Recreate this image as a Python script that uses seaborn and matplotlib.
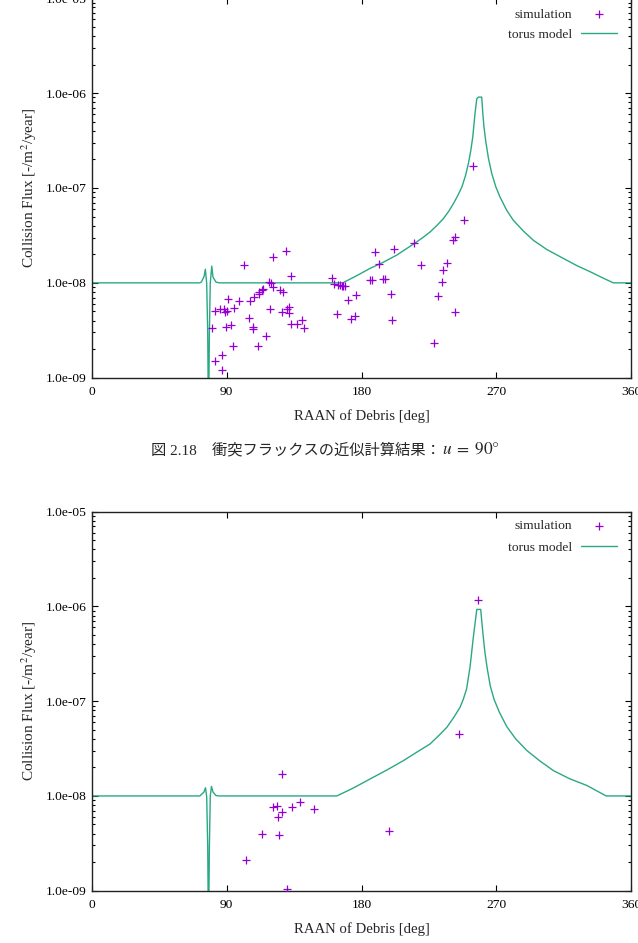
# collision_flux_raan_plot.py

import matplotlib
matplotlib.use("Agg")
import matplotlib.pyplot as plt
import matplotlib.ticker as mticker
import seaborn as sns

# ---- data ----
y_ticks = [1e-9, 1e-8, 1e-7, 1e-6, 1e-5]
x_ticks = [0, 90, 180, 270, 360]

# upper panel (u = 90 deg)
top_sim_raan = [101.3, 121.1, 129.4, 132.7, 118.4, 119.4, 120.9, 125.6, 127.6, 113.4,
                114.2, 111.8, 111.8, 108.4, 105.3, 98.0, 90.6, 82.4, 85.5, 88.4,
                90.0, 89.0, 94.9, 118.9, 126.7, 131.8, 131.8, 130.5, 104.9, 140.3,
                132.7, 136.7, 141.6, 80.0, 89.7, 93.1, 107.3, 107.8, 115.9, 110.6,
                94.5, 86.6, 82.2, 87.0,
                160.3, 161.7, 164.3, 165.7, 166.8, 167.9, 169.0, 163.9, 171.2, 176.4,
                172.8, 175.9, 185.7, 187.0, 189.0, 191.9, 194.6, 195.5, 199.7, 200.2,
                201.9, 215.3, 219.6, 228.5, 230.9, 233.6, 234.3, 236.9, 241.4, 242.3,
                242.3, 248.7, 254.7]
top_sim_flux = [1.55e-8, 1.88e-8, 2.16e-8, 1.17e-8, 1.03e-8, 9.86e-9, 8.95e-9, 8.38e-9, 7.98e-9, 8.38e-9,
                8.59e-9, 8.04e-9, 7.60e-9, 7.06e-9, 6.41e-9, 6.41e-9, 6.68e-9, 5.04e-9, 5.32e-9, 5.25e-9,
                5.04e-9, 4.95e-9, 5.38e-9, 5.25e-9, 4.95e-9, 5.51e-9, 4.76e-9, 5.25e-9, 4.22e-9, 4.05e-9,
                3.70e-9, 3.65e-9, 3.31e-9, 3.31e-9, 3.44e-9, 3.59e-9, 3.40e-9, 3.26e-9, 2.75e-9, 2.18e-9,
                2.14e-9, 1.73e-9, 1.51e-9, 1.22e-9,
                1.13e-8, 9.62e-9, 9.53e-9, 9.40e-9, 9.29e-9, 9.23e-9, 9.16e-9, 4.65e-9, 6.58e-9, 7.43e-9,
                4.12e-9, 4.43e-9, 1.07e-8, 1.07e-8, 2.12e-8, 1.57e-8, 1.09e-8, 1.09e-8, 7.66e-9, 4.02e-9,
                2.30e-8, 2.60e-8, 1.53e-8, 2.30e-9, 7.29e-9, 1.03e-8, 1.36e-8, 1.60e-8, 2.81e-8, 3.01e-8,
                4.95e-9, 4.60e-8, 1.72e-7]

top_model_raan = [0, 72.0, 73.0, 74.8, 75.7, 76.6, 77.3, 77.8, 78.4, 79.0,
                  80.0, 80.8, 82.8, 85.0, 167.5, 176.8, 185.7, 194.6, 203.5, 215.3,
                  220.7, 225.8, 230.3, 234.7, 238.3, 241.4, 244.3, 247.0, 249.4, 251.4,
                  253.0, 254.3, 255.8, 257.0, 258.1, 260.3, 261.0, 261.8, 263.0, 264.8,
                  267.0, 269.7, 272.5, 277.0, 281.4, 288.1, 294.8, 303.7, 314.8, 323.8,
                  332.7, 340.5, 348.2, 360]
top_model_flux = [1.0e-8, 1.0e-8, 1.02e-8, 1.16e-8, 1.39e-8, 9.9e-9, 2.95e-9, 3.0e-10, 2.95e-9, 1.0e-8,
                  1.5e-8, 1.15e-8, 1.02e-8, 1.0e-8, 1.0e-8, 1.19e-8, 1.42e-8, 1.65e-8, 1.96e-8, 2.60e-8,
                  2.98e-8, 3.44e-8, 4.02e-8, 4.76e-8, 5.69e-8, 6.85e-8, 8.32e-8, 1.02e-7, 1.34e-7, 1.81e-7,
                  2.49e-7, 3.44e-7, 6.07e-7, 8.73e-7, 9.08e-7, 9.08e-7, 6.2e-7, 4.4e-7, 3.1e-7, 2.05e-7,
                  1.42e-7, 1.03e-7, 8.04e-8, 5.82e-8, 4.57e-8, 3.52e-8, 2.81e-8, 2.25e-8, 1.81e-8, 1.52e-8,
                  1.31e-8, 1.14e-8, 1.0e-8, 1.0e-8]

# lower panel
bot_sim_raan = [126.7, 120.7, 123.8, 127.1, 124.5, 133.4, 138.9, 148.3, 113.4, 124.7,
                102.9, 130.1, 198.2, 245.4, 258.1]
bot_sim_flux = [1.71e-8, 7.59e-9, 7.91e-9, 6.71e-9, 6.00e-9, 7.59e-9, 8.71e-9, 7.29e-9, 3.97e-9, 3.87e-9,
                2.09e-9, 1.03e-9, 4.24e-9, 4.55e-8, 1.18e-6]

bot_model_raan = [0, 72.0, 74.8, 75.8, 76.6, 77.3, 77.8, 78.4, 79.0, 79.8,
                  80.8, 82.8, 85.0, 163.5, 174.0, 185.7, 197.0, 208.0, 217.0, 225.8,
                  232.0, 237.0, 241.5, 245.8, 248.0, 250.2, 252.5, 254.7, 257.0, 259.6,
                  261.2, 262.5, 264.0, 266.0, 268.5, 272.0, 277.0, 283.0, 290.4, 299.0,
                  308.2, 319.0, 330.5, 343.4, 360]
bot_model_flux = [1.0e-8, 1.0e-8, 1.1e-8, 1.22e-8, 9.8e-9, 2.9e-9, 3.0e-10, 2.9e-9, 1.0e-8, 1.26e-8,
                  1.1e-8, 1.01e-8, 1.0e-8, 1.0e-8, 1.2e-8, 1.51e-8, 1.88e-8, 2.36e-8, 2.9e-8, 3.54e-8,
                  4.4e-8, 5.30e-8, 6.7e-8, 8.61e-8, 1.05e-7, 1.35e-7, 2.3e-7, 4.74e-7, 9.3e-7, 9.3e-7,
                  5.0e-7, 3.2e-7, 2.2e-7, 1.45e-7, 1.05e-7, 7.7e-8, 5.4e-8, 4.0e-8, 3.02e-8, 2.35e-8,
                  1.85e-8, 1.52e-8, 1.29e-8, 1.0e-8, 1.0e-8]

caption_main = "図 2.18　衝突フラックスの近似計算結果："
caption_math = r"$u\;=\;90°$"

sim_color = "#9400d3"
model_color = "#2aa885"
fs = 9.7

sns.set_style("ticks")
plt.rcParams["font.family"] = ["Liberation Serif", "Noto Sans CJK JP"]
plt.rcParams["mathtext.fontset"] = "stix"

fig = plt.figure(figsize=(6.38, 9.43), dpi=100)

ax_top = fig.add_axes([92 / 638, 1 - 377.7 / 943, 539 / 638, 379.4 / 943])
ax_bot = fig.add_axes([92 / 638, 1 - 890.7 / 943, 539 / 638, 379.0 / 943])


def draw_panel(ax, sim_x, sim_y, mod_x, mod_y, leg_y, leg_gap):
    sns.scatterplot(x=sim_x, y=sim_y, marker="+", s=32, color=sim_color,
                    linewidth=0.9, label="simulation", ax=ax, zorder=3)
    sns.lineplot(x=mod_x, y=mod_y, color=model_color, linewidth=1.0,
                 estimator=None, sort=False, label="torus model", ax=ax)
    ax.set_yscale("log")
    ax.set_xlim(0, 360)
    ax.set_ylim(1e-9, 1e-5)
    ax.set_xticks(x_ticks)
    ax.set_yticks(y_ticks)
    ax.yaxis.set_major_formatter(mticker.FuncFormatter(lambda v, p: f"{v:.1e}"))
    ax.yaxis.set_minor_locator(mticker.LogLocator(base=10, subs=range(2, 10), numticks=20))
    ax.yaxis.set_minor_formatter(mticker.NullFormatter())
    ax.tick_params(which="both", direction="in", top=True, right=True,
                   labelsize=fs, colors="black", width=0.8)
    ax.tick_params(which="major", length=4.5)
    ax.tick_params(which="minor", length=2.5)
    ax.tick_params(axis="x", pad=6)
    ax.tick_params(axis="y", pad=4)
    for sp in ax.spines.values():
        sp.set_visible(True)
        sp.set_linewidth(1.0)
        sp.set_color("#222222")
    ax.set_xlabel("RAAN of Debris [deg]", fontsize=10.6, labelpad=8)
    ax.set_ylabel("Collision Flux [-/m$^2$/year]", fontsize=11, labelpad=5)
    ax.legend(loc="upper right", bbox_to_anchor=(0.974, leg_y), frameon=False,
              markerfirst=False, handlelength=2.7, handletextpad=0.6,
              labelspacing=leg_gap, borderpad=0, borderaxespad=0, fontsize=fs,
              scatterpoints=1)
    ax.grid(False)


draw_panel(ax_top, top_sim_raan, top_sim_flux, top_model_raan, top_model_flux, 0.974, 0.58)
draw_panel(ax_bot, bot_sim_raan, bot_sim_flux, bot_model_raan, bot_model_flux, 0.979, 0.7)

# figure caption between the panels
fig.text(441 / 638, 1 - 450 / 943, caption_main, ha="right", va="center", fontsize=11)
fig.text(442 / 638, 1 - 450 / 943, caption_math, ha="left", va="center", fontsize=12.5)

fig.savefig("out.png", dpi=100)
